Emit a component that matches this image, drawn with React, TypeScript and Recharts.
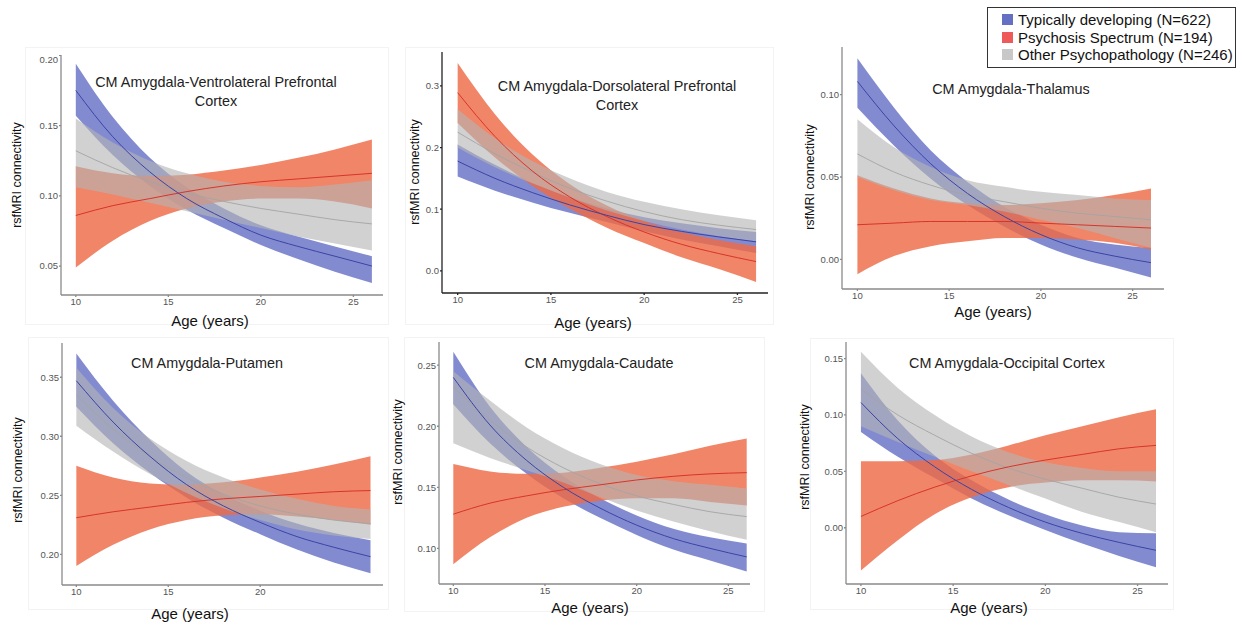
import { ComposedChart, Area, Line, XAxis, YAxis } from 'recharts';

const ages = [10, 12, 14, 16, 18, 20, 22, 24, 26];

const groupNames = [
  'Typically developing (N=622)',
  'Psychosis Spectrum (N=194)',
  'Other Psychopathology (N=246)',
];

// CM Amygdala-Ventrolateral Prefrontal Cortex
const vlpfcTdMean = [0.175, 0.142, 0.117, 0.098, 0.084, 0.072, 0.064, 0.057, 0.050];
const vlpfcTdLo = [0.157, 0.129, 0.107, 0.090, 0.077, 0.065, 0.055, 0.046, 0.038];
const vlpfcTdHi = [0.194, 0.156, 0.127, 0.106, 0.091, 0.079, 0.071, 0.064, 0.057];
const vlpfcPsMean = [0.086, 0.093, 0.098, 0.103, 0.107, 0.110, 0.112, 0.114, 0.116];
const vlpfcPsLo = [0.049, 0.068, 0.082, 0.091, 0.096, 0.098, 0.098, 0.096, 0.091];
const vlpfcPsHi = [0.121, 0.116, 0.114, 0.115, 0.118, 0.122, 0.127, 0.133, 0.140];
const vlpfcOpMean = [0.132, 0.120, 0.110, 0.102, 0.096, 0.091, 0.087, 0.083, 0.080];
const vlpfcOpLo = [0.106, 0.101, 0.095, 0.089, 0.083, 0.077, 0.071, 0.066, 0.061];
const vlpfcOpHi = [0.155, 0.138, 0.125, 0.116, 0.110, 0.107, 0.106, 0.108, 0.111];

// CM Amygdala-Dorsolateral Prefrontal Cortex
const dlpfcTdMean = [0.178, 0.150, 0.127, 0.107, 0.090, 0.075, 0.064, 0.055, 0.047];
const dlpfcTdLo = [0.153, 0.130, 0.111, 0.094, 0.079, 0.064, 0.051, 0.040, 0.029];
const dlpfcTdHi = [0.205, 0.172, 0.143, 0.120, 0.101, 0.087, 0.077, 0.069, 0.063];
const dlpfcPsMean = [0.289, 0.218, 0.162, 0.120, 0.088, 0.063, 0.043, 0.028, 0.015];
const dlpfcPsLo = [0.240, 0.184, 0.138, 0.101, 0.070, 0.045, 0.022, 0.003, -0.018];
const dlpfcPsHi = [0.337, 0.254, 0.189, 0.141, 0.106, 0.081, 0.063, 0.050, 0.040];
const dlpfcOpMean = [0.225, 0.190, 0.160, 0.134, 0.113, 0.096, 0.083, 0.074, 0.067];
const dlpfcOpLo = [0.200, 0.168, 0.142, 0.119, 0.098, 0.081, 0.067, 0.056, 0.048];
const dlpfcOpHi = [0.262, 0.215, 0.178, 0.150, 0.128, 0.112, 0.100, 0.090, 0.082];

// CM Amygdala-Thalamus
const thalTdMean = [0.108, 0.081, 0.058, 0.040, 0.026, 0.015, 0.007, 0.002, -0.002];
const thalTdLo = [0.092, 0.069, 0.049, 0.033, 0.020, 0.009, 0.001, -0.005, -0.011];
const thalTdHi = [0.122, 0.092, 0.066, 0.047, 0.032, 0.021, 0.013, 0.009, 0.007];
const thalPsMean = [0.021, 0.022, 0.023, 0.023, 0.023, 0.022, 0.021, 0.020, 0.019];
const thalPsLo = [-0.009, 0.002, 0.008, 0.011, 0.013, 0.013, 0.012, 0.010, 0.006];
const thalPsHi = [0.051, 0.043, 0.037, 0.034, 0.033, 0.034, 0.036, 0.039, 0.043];
const thalOpMean = [0.064, 0.053, 0.045, 0.039, 0.035, 0.031, 0.028, 0.026, 0.024];
const thalOpLo = [0.050, 0.042, 0.036, 0.033, 0.029, 0.024, 0.019, 0.013, 0.007];
const thalOpHi = [0.085, 0.068, 0.056, 0.048, 0.044, 0.041, 0.039, 0.037, 0.036];

// CM Amygdala-Putamen
const putTdMean = [0.347, 0.312, 0.283, 0.259, 0.241, 0.227, 0.215, 0.206, 0.198];
const putTdLo = [0.325, 0.294, 0.269, 0.248, 0.231, 0.217, 0.204, 0.193, 0.184];
const putTdHi = [0.370, 0.330, 0.297, 0.270, 0.251, 0.237, 0.226, 0.218, 0.212];
const putPsMean = [0.231, 0.236, 0.240, 0.244, 0.247, 0.249, 0.251, 0.253, 0.254];
const putPsLo = [0.190, 0.208, 0.221, 0.229, 0.233, 0.234, 0.232, 0.229, 0.225];
const putPsHi = [0.275, 0.265, 0.260, 0.259, 0.261, 0.265, 0.270, 0.276, 0.283];
const putOpMean = [0.335, 0.306, 0.283, 0.265, 0.251, 0.241, 0.234, 0.229, 0.226];
const putOpLo = [0.309, 0.287, 0.268, 0.252, 0.239, 0.229, 0.221, 0.216, 0.213];
const putOpHi = [0.358, 0.324, 0.298, 0.279, 0.265, 0.255, 0.247, 0.241, 0.238];

// CM Amygdala-Caudate
const caudTdMean = [0.240, 0.201, 0.172, 0.150, 0.133, 0.119, 0.108, 0.100, 0.093];
const caudTdLo = [0.218, 0.186, 0.161, 0.141, 0.125, 0.111, 0.099, 0.090, 0.081];
const caudTdHi = [0.261, 0.216, 0.183, 0.159, 0.141, 0.127, 0.116, 0.109, 0.104];
const caudPsMean = [0.128, 0.137, 0.143, 0.148, 0.152, 0.156, 0.159, 0.161, 0.162];
const caudPsLo = [0.087, 0.109, 0.125, 0.134, 0.139, 0.141, 0.141, 0.138, 0.135];
const caudPsHi = [0.169, 0.163, 0.161, 0.162, 0.166, 0.171, 0.177, 0.184, 0.190];
const caudOpMean = [0.232, 0.205, 0.183, 0.166, 0.153, 0.143, 0.136, 0.130, 0.126];
const caudOpLo = [0.186, 0.174, 0.164, 0.154, 0.142, 0.131, 0.122, 0.114, 0.107];
const caudOpHi = [0.245, 0.221, 0.199, 0.182, 0.169, 0.160, 0.155, 0.152, 0.149];

// CM Amygdala-Occipital Cortex
const occTdMean = [0.111, 0.079, 0.054, 0.034, 0.018, 0.005, -0.005, -0.013, -0.020];
const occTdLo = [0.085, 0.063, 0.044, 0.026, 0.011, -0.002, -0.014, -0.025, -0.035];
const occTdHi = [0.137, 0.095, 0.064, 0.042, 0.025, 0.012, 0.002, -0.004, -0.005];
const occPsMean = [0.010, 0.024, 0.036, 0.046, 0.054, 0.060, 0.065, 0.070, 0.073];
const occPsLo = [-0.038, -0.011, 0.012, 0.027, 0.036, 0.040, 0.042, 0.042, 0.041];
const occPsHi = [0.059, 0.059, 0.060, 0.065, 0.073, 0.082, 0.090, 0.098, 0.105];
const occOpMean = [0.123, 0.100, 0.082, 0.066, 0.053, 0.043, 0.035, 0.027, 0.021];
const occOpLo = [0.090, 0.076, 0.063, 0.050, 0.038, 0.026, 0.014, 0.005, -0.004];
const occOpHi = [0.156, 0.124, 0.100, 0.081, 0.067, 0.058, 0.053, 0.050, 0.050];

const TD = '#5a64c0';
const PS = '#ee6a45';
const OP = '#b4b4b4';
const FONT = '"Liberation Sans", Arial, Helvetica, sans-serif';

function buildRows(td: number[][], ps: number[][], op: number[][]) {
  return ages.map((age, i) => ({
    age,
    td: td[0][i],
    tdBand: [td[1][i], td[2][i]],
    ps: ps[0][i],
    psBand: [ps[1][i], ps[2][i]],
    op: op[0][i],
    opBand: [op[1][i], op[2][i]],
  }));
}

const panels = [
  {
    title: ['CM Amygdala-Ventrolateral Prefrontal', 'Cortex'],
    rows: buildRows([vlpfcTdMean, vlpfcTdLo, vlpfcTdHi], [vlpfcPsMean, vlpfcPsLo, vlpfcPsHi], [vlpfcOpMean, vlpfcOpLo, vlpfcOpHi]),
    plot: [61, 383, 55, 295],
    xDomain: [9.2, 26.6], yDomain: [0.0294, 0.2002],
    xTicks: [10, 15, 20, 25], yTicks: [0.05, 0.1, 0.15, 0.2], digits: 2,
    axis: '#8a8a8a',
    titlePos: [216, 92], xLab: [210, 320], yLab: [17, 175],
    frame: [25, 47, 362, 276],
  },
  {
    title: ['CM Amygdala-Dorsolateral Prefrontal', 'Cortex'],
    rows: buildRows([dlpfcTdMean, dlpfcTdLo, dlpfcTdHi], [dlpfcPsMean, dlpfcPsLo, dlpfcPsHi], [dlpfcOpMean, dlpfcOpLo, dlpfcOpHi]),
    plot: [442, 768, 52, 293],
    xDomain: [9.16, 26.64], yDomain: [-0.036, 0.355],
    xTicks: [10, 15, 20, 25], yTicks: [0, 0.1, 0.2, 0.3], digits: 1,
    axis: '#222222',
    titlePos: [617, 96], xLab: [593, 322], yLab: [415, 172],
    frame: [405, 47, 367, 276],
  },
  {
    title: ['CM Amygdala-Thalamus'],
    rows: buildRows([thalTdMean, thalTdLo, thalTdHi], [thalPsMean, thalPsLo, thalPsHi], [thalOpMean, thalOpLo, thalOpHi]),
    plot: [842, 1164, 47, 289],
    xDomain: [9.16, 26.71], yDomain: [-0.018, 0.1289],
    xTicks: [10, 15, 20, 25], yTicks: [0, 0.05, 0.1], digits: 2,
    axis: '#8a8a8a',
    titlePos: [1011, 89], xLab: [993, 311], yLab: [810, 177],
    frame: null,
  },
  {
    title: ['CM Amygdala-Putamen'],
    rows: buildRows([putTdMean, putTdLo, putTdHi], [putPsMean, putPsLo, putPsHi], [putOpMean, putOpLo, putOpHi]),
    plot: [62, 383, 343, 585],
    xDomain: [9.22, 26.68], yDomain: [0.174, 0.379],
    xTicks: [10, 15, 20], yTicks: [0.2, 0.25, 0.3, 0.35], digits: 2,
    axis: '#8a8a8a',
    titlePos: [207, 363], xLab: [190, 613], yLab: [18, 470],
    frame: [28, 337, 359, 271],
  },
  {
    title: ['CM Amygdala-Caudate'],
    rows: buildRows([caudTdMean, caudTdLo, caudTdHi], [caudPsMean, caudPsLo, caudPsHi], [caudOpMean, caudOpLo, caudOpHi]),
    plot: [439, 750, 342, 584],
    xDomain: [9.22, 26.18], yDomain: [0.0708, 0.269],
    xTicks: [10, 15, 20, 25], yTicks: [0.1, 0.15, 0.2, 0.25], digits: 2,
    axis: '#8a8a8a',
    titlePos: [599, 363], xLab: [590, 607], yLab: [398, 452],
    frame: [404, 337, 359, 273],
  },
  {
    title: ['CM Amygdala-Occipital Cortex'],
    rows: buildRows([occTdMean, occTdLo, occTdHi], [occPsMean, occPsLo, occPsHi], [occOpMean, occOpLo, occOpHi]),
    plot: [846, 1168, 342, 584],
    xDomain: [9.19, 26.65], yDomain: [-0.0499, 0.1647],
    xTicks: [10, 15, 20, 25], yTicks: [0, 0.05, 0.1, 0.15], digits: 2,
    axis: '#8a8a8a',
    titlePos: [1007, 363], xLab: [989, 607], yLab: [805, 457],
    frame: [810, 338, 362, 270],
  },
];

type PanelDef = (typeof panels)[number];

function Panel({ p }: { p: PanelDef }) {
  const yw = 40;
  const xh = 24;
  const [l, r, t, b] = p.plot;
  const w = r - l + yw;
  const h = b - t + xh;
  const tickStyle = { fontSize: 9.5, fill: '#555555', fontFamily: FONT };
  return (
    <>
      {p.frame && (
        <div
          style={{
            position: 'absolute',
            left: p.frame[0],
            top: p.frame[1],
            width: p.frame[2],
            height: p.frame[3],
            border: '1px solid #f3f3f3',
          }}
        />
      )}
      <div style={{ position: 'absolute', left: l - yw, top: t }}>
        <ComposedChart width={w} height={h} data={p.rows} margin={{ top: 0, right: 0, bottom: 0, left: 0 }}>
          <XAxis
            dataKey="age"
            type="number"
            domain={p.xDomain}
            ticks={p.xTicks}
            allowDataOverflow
            height={xh}
            stroke={p.axis}
            strokeWidth={1.3}
            tick={tickStyle}
            tickSize={2}
            tickMargin={1}
          />
          <YAxis
            type="number"
            domain={p.yDomain}
            ticks={p.yTicks}
            allowDataOverflow
            width={yw}
            stroke={p.axis}
            strokeWidth={1.3}
            tick={tickStyle}
            tickSize={2}
            tickMargin={1}
            tickFormatter={(v: number) => v.toFixed(p.digits)}
          />
          <Area dataKey="tdBand" type="monotone" fill={TD} fillOpacity={0.75} stroke="none" isAnimationActive={false} />
          <Area dataKey="psBand" type="monotone" fill={PS} fillOpacity={0.82} stroke="none" isAnimationActive={false} />
          <Area dataKey="opBand" type="monotone" fill={OP} fillOpacity={0.62} stroke="none" isAnimationActive={false} />
          <Line dataKey="op" type="monotone" stroke="#a4a4a4" strokeWidth={0.9} dot={false} isAnimationActive={false} />
          <Line dataKey="ps" type="monotone" stroke="#d8342a" strokeWidth={1} dot={false} isAnimationActive={false} />
          <Line dataKey="td" type="monotone" stroke="#3a44a4" strokeWidth={1} dot={false} isAnimationActive={false} />
        </ComposedChart>
      </div>
      <div
        style={{
          position: 'absolute',
          left: p.titlePos[0],
          top: p.titlePos[1],
          transform: 'translate(-50%, -50%)',
          fontSize: 14.4,
          lineHeight: '19px',
          color: '#222',
          textAlign: 'center',
          whiteSpace: 'nowrap',
        }}
      >
        {p.title.map((s) => (
          <div key={s}>{s}</div>
        ))}
      </div>
      <div
        style={{
          position: 'absolute',
          left: p.xLab[0],
          top: p.xLab[1],
          transform: 'translate(-50%, -50%)',
          fontSize: 15,
          color: '#111',
          whiteSpace: 'nowrap',
        }}
      >
        Age (years)
      </div>
      <div
        style={{
          position: 'absolute',
          left: p.yLab[0],
          top: p.yLab[1],
          transform: 'translate(-50%, -50%) rotate(-90deg)',
          fontSize: 12.5,
          color: '#111',
          whiteSpace: 'nowrap',
        }}
      >
        rsfMRI connectivity
      </div>
    </>
  );
}

function Legend() {
  const colors = ['#6570c2', '#ee5a5a', '#c8c8c8'];
  return (
    <div
      style={{
        position: 'absolute',
        left: 987,
        top: 7,
        width: 249,
        height: 61,
        border: '1.5px solid #333',
        background: '#fff',
        paddingTop: 3,
        boxSizing: 'border-box',
      }}
    >
      {groupNames.map((g, i) => (
        <div key={g} style={{ display: 'flex', alignItems: 'center', height: 17.5, paddingLeft: 14 }}>
          <span style={{ width: 11, height: 11, background: colors[i], marginRight: 5, display: 'inline-block' }} />
          <span style={{ fontSize: 15, color: '#111', whiteSpace: 'nowrap' }}>{g}</span>
        </div>
      ))}
    </div>
  );
}

export default function App() {
  return (
    <div
      style={{
        position: 'absolute',
        left: 0,
        top: 0,
        width: 1242,
        height: 625,
        background: '#fff',
        fontFamily: FONT,
        overflow: 'hidden',
      }}
    >
      {panels.map((p) => (
        <Panel key={p.title[0]} p={p} />
      ))}
      <Legend />
    </div>
  );
}
